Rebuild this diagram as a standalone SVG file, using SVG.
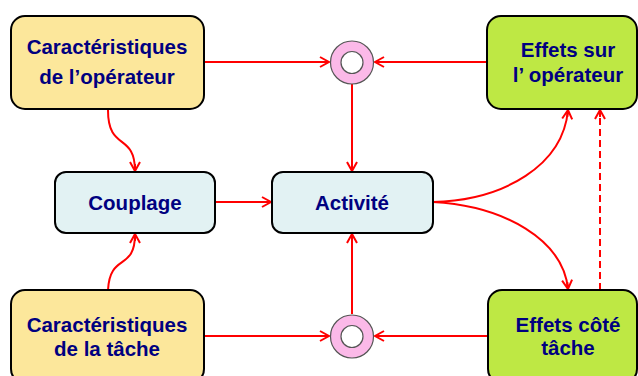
<svg xmlns="http://www.w3.org/2000/svg" width="638" height="376" viewBox="0 0 638 376">
<style>
.box{stroke:#000;stroke-width:2}
.y{fill:#FCE79B}
.g{fill:#BEE844}
.b{fill:#E2F2F3}
.t{font-family:"Liberation Sans",Arial,sans-serif;font-weight:bold;font-size:20.5px;fill:#000080;text-anchor:middle}
.c{stroke:#FF0000;stroke-width:2;fill:none}
.ring{fill:#FBB9E8;stroke:#555;stroke-width:1.2}
.hole{fill:#fff;stroke:#555;stroke-width:1.2}
</style>
<defs>
<marker id="a" markerUnits="userSpaceOnUse" markerWidth="12" markerHeight="12" refX="10" refY="6" orient="auto">
<path d="M1,1 L10,6 L1,11 M3,6 L10,6" stroke="#FF0000" stroke-width="2" fill="none"/>
</marker>
</defs>
<rect width="638" height="376" fill="#fff"/>
<g id="connectors">
<path class="c" d="M204,62 H329" marker-end="url(#a)"/>
<path class="c" d="M487,62 H375" marker-end="url(#a)"/>
<path class="c" d="M352,84 V171" marker-end="url(#a)"/>
<path class="c" d="M215,202 H271" marker-end="url(#a)"/>
<path class="c" d="M108,110 C108,152 135,132 135,171" marker-end="url(#a)"/>
<path class="c" d="M108,290 C110,252 135,272 135,234" marker-end="url(#a)"/>
<path class="c" d="M204,336 H329" marker-end="url(#a)"/>
<path class="c" d="M488,336 H375" marker-end="url(#a)"/>
<path class="c" d="M352,314 V234" marker-end="url(#a)"/>
<path class="c" d="M433,202 C505,200 563,165 568,110" marker-end="url(#a)"/>
<path class="c" d="M433,202 C505,206 563,240 568,289" marker-end="url(#a)"/>
<path class="c" d="M600,290 V110" stroke-dasharray="7,4" marker-end="url(#a)"/>
</g>
<g id="car-op">
<rect class="box y" x="11" y="16" width="193" height="93" rx="14"/>
<text class="t" x="107" y="54">Caractéristiques</text>
<text class="t" x="107" y="84">de l’opérateur</text>
</g>
<g id="eff-op">
<rect class="box g" x="487" y="16" width="150" height="93" rx="14"/>
<text class="t" x="568" y="57">Effets sur</text>
<text class="t" x="568" y="82">l’ opérateur</text>
</g>
<g id="couplage">
<rect class="box b" x="55" y="172" width="160" height="61" rx="11"/>
<text class="t" x="135" y="210">Couplage</text>
</g>
<g id="activite">
<rect class="box b" x="272" y="172" width="161" height="61" rx="11"/>
<text class="t" x="352" y="210">Activité</text>
</g>
<g id="car-tache">
<rect class="box y" x="11" y="290" width="193" height="93" rx="14"/>
<text class="t" x="107" y="332">Caractéristiques</text>
<text class="t" x="107" y="356">de la tâche</text>
</g>
<g id="eff-tache">
<rect class="box g" x="488" y="290" width="149" height="93" rx="14"/>
<text class="t" x="568" y="332">Effets côté</text>
<text class="t" x="568" y="355">tâche</text>
</g>
<g id="ring-top">
<circle class="ring" cx="352" cy="62.5" r="21.5"/>
<circle class="hole" cx="352" cy="62.5" r="11"/>
</g>
<g id="ring-bottom">
<circle class="ring" cx="352" cy="336.5" r="21.5"/>
<circle class="hole" cx="352" cy="336.5" r="11"/>
</g>
</svg>
